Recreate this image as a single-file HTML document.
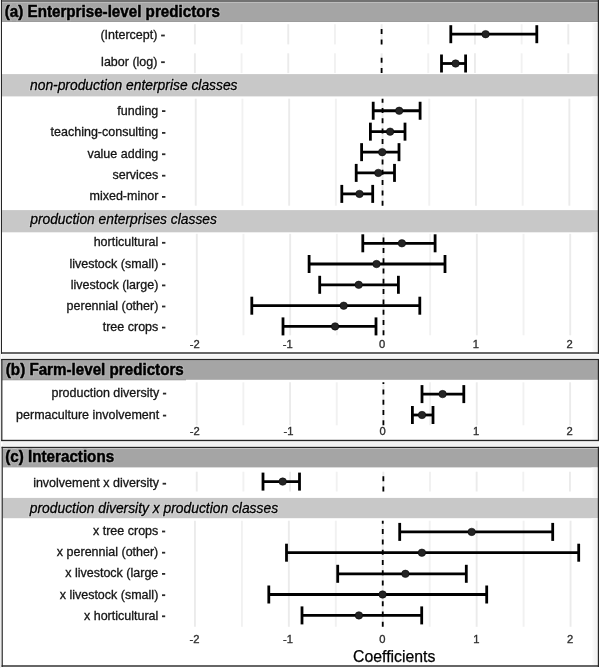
<!DOCTYPE html>
<html><head><meta charset="utf-8"><style>
html,body{margin:0;padding:0;background:#fff;}
body{width:600px;height:668px;overflow:hidden;}
svg{display:block;font-family:"Liberation Sans", sans-serif;filter:grayscale(1);}
</style></head><body>
<svg width="600" height="668" viewBox="0 0 600 668">
<defs><linearGradient id="rg" x1="0" x2="1" y1="0" y2="0"><stop offset="0" stop-color="#ffffff"/><stop offset="0.5" stop-color="#f5f5f5"/><stop offset="1" stop-color="#f2f2f2"/></linearGradient></defs>
<rect x="0" y="0" width="600" height="668" fill="#ffffff"/>
<rect x="0" y="0" width="1" height="668" fill="#ececec"/>
<rect x="1" y="0" width="597.5" height="2" fill="#727272"/>
<rect x="2" y="2" width="596" height="1" fill="#bdbdbd"/>
<rect x="2" y="3" width="596" height="19" fill="#a5a5a5"/>
<rect x="2" y="21" width="596" height="1" fill="#9c9c9c"/>
<text transform="translate(4.75 16.9) scale(1 1.08)" font-size="15.2" font-weight="bold" font-style="normal" text-anchor="start" fill="#b4b4b4" stroke="#b4b4b4" stroke-width="2.4">(a) Enterprise-level predictors</text>
<text transform="translate(4.75 16.9) scale(1 1.08)" font-size="15.2" font-weight="bold" font-style="normal" text-anchor="start" fill="#000" stroke="#000" stroke-width="0.45">(a) Enterprise-level predictors</text>
<line x1="241.58" y1="24.2" x2="241.58" y2="44.4" stroke="#f1f1f1" stroke-width="1.9" />
<line x1="334.93" y1="24.2" x2="334.93" y2="44.4" stroke="#f1f1f1" stroke-width="1.9" />
<line x1="428.28" y1="24.2" x2="428.28" y2="44.4" stroke="#f1f1f1" stroke-width="1.9" />
<line x1="521.62" y1="24.2" x2="521.62" y2="44.4" stroke="#f1f1f1" stroke-width="1.9" />
<line x1="194.9" y1="24.2" x2="194.9" y2="44.4" stroke="#ebebeb" stroke-width="1.9" />
<line x1="288.25" y1="24.2" x2="288.25" y2="44.4" stroke="#ebebeb" stroke-width="1.9" />
<line x1="381.6" y1="24.2" x2="381.6" y2="44.4" stroke="#ebebeb" stroke-width="1.9" />
<line x1="474.95" y1="24.2" x2="474.95" y2="44.4" stroke="#ebebeb" stroke-width="1.9" />
<line x1="568.3" y1="24.2" x2="568.3" y2="44.4" stroke="#ebebeb" stroke-width="1.9" />
<line x1="381.6" y1="44.4" x2="381.6" y2="24.2" stroke="#000" stroke-width="1.8" stroke-dasharray="5 5.3"/>
<line x1="450.8" y1="34.2" x2="536.8" y2="34.2" stroke="#000" stroke-width="2.8" />
<line x1="450.8" y1="25.200000000000003" x2="450.8" y2="43.2" stroke="#000" stroke-width="2.8" />
<line x1="536.8" y1="25.200000000000003" x2="536.8" y2="43.2" stroke="#000" stroke-width="2.8" />
<circle cx="485.6" cy="34.2" r="3.75" fill="#242424" stroke="#000" stroke-width="0.5"/>
<text x="157.4" y="38.9" font-size="12.5" font-weight="normal" font-style="normal" text-anchor="end" fill="#141414" stroke="#141414" stroke-width="0.3">(Intercept)</text>
<line x1="161.1" y1="35.5" x2="164.8" y2="35.5" stroke="#2a2a2a" stroke-width="1.8" />
<line x1="241.58" y1="53.3" x2="241.58" y2="73.1" stroke="#f1f1f1" stroke-width="1.9" />
<line x1="334.93" y1="53.3" x2="334.93" y2="73.1" stroke="#f1f1f1" stroke-width="1.9" />
<line x1="428.28" y1="53.3" x2="428.28" y2="73.1" stroke="#f1f1f1" stroke-width="1.9" />
<line x1="521.62" y1="53.3" x2="521.62" y2="73.1" stroke="#f1f1f1" stroke-width="1.9" />
<line x1="194.9" y1="53.3" x2="194.9" y2="73.1" stroke="#ebebeb" stroke-width="1.9" />
<line x1="288.25" y1="53.3" x2="288.25" y2="73.1" stroke="#ebebeb" stroke-width="1.9" />
<line x1="381.6" y1="53.3" x2="381.6" y2="73.1" stroke="#ebebeb" stroke-width="1.9" />
<line x1="474.95" y1="53.3" x2="474.95" y2="73.1" stroke="#ebebeb" stroke-width="1.9" />
<line x1="568.3" y1="53.3" x2="568.3" y2="73.1" stroke="#ebebeb" stroke-width="1.9" />
<line x1="381.6" y1="73.1" x2="381.6" y2="53.3" stroke="#000" stroke-width="1.8" stroke-dasharray="5 5.3"/>
<line x1="441.5" y1="63.5" x2="465.6" y2="63.5" stroke="#000" stroke-width="2.8" />
<line x1="441.5" y1="54.5" x2="441.5" y2="72.5" stroke="#000" stroke-width="2.8" />
<line x1="465.6" y1="54.5" x2="465.6" y2="72.5" stroke="#000" stroke-width="2.8" />
<circle cx="455.6" cy="63.5" r="3.75" fill="#242424" stroke="#000" stroke-width="0.5"/>
<text x="157.4" y="65.6" font-size="12.5" font-weight="normal" font-style="normal" text-anchor="end" fill="#141414" stroke="#141414" stroke-width="0.3">labor (log)</text>
<line x1="161.1" y1="62.2" x2="164.8" y2="62.2" stroke="#2a2a2a" stroke-width="1.8" />
<rect x="2" y="74.1" width="596" height="22.3" fill="#c8c8c8"/>
<text x="30" y="90.3" font-size="13.84" font-weight="normal" font-style="italic" text-anchor="start" fill="#d6d6d6" stroke="#d6d6d6" stroke-width="2.2">non-production enterprise classes</text>
<text x="30" y="90.3" font-size="13.84" font-weight="normal" font-style="italic" text-anchor="start" fill="#000" stroke="#000" stroke-width="0.3">non-production enterprise classes</text>
<line x1="242.45" y1="98.7" x2="242.45" y2="205.7" stroke="#f1f1f1" stroke-width="1.9" />
<line x1="335.85" y1="98.7" x2="335.85" y2="205.7" stroke="#f1f1f1" stroke-width="1.9" />
<line x1="429.25" y1="98.7" x2="429.25" y2="205.7" stroke="#f1f1f1" stroke-width="1.9" />
<line x1="522.65" y1="98.7" x2="522.65" y2="205.7" stroke="#f1f1f1" stroke-width="1.9" />
<line x1="195.75" y1="98.7" x2="195.75" y2="205.7" stroke="#ebebeb" stroke-width="1.9" />
<line x1="289.15" y1="98.7" x2="289.15" y2="205.7" stroke="#ebebeb" stroke-width="1.9" />
<line x1="382.55" y1="98.7" x2="382.55" y2="205.7" stroke="#ebebeb" stroke-width="1.9" />
<line x1="475.95" y1="98.7" x2="475.95" y2="205.7" stroke="#ebebeb" stroke-width="1.9" />
<line x1="569.35" y1="98.7" x2="569.35" y2="205.7" stroke="#ebebeb" stroke-width="1.9" />
<line x1="382.55" y1="205.7" x2="382.55" y2="98.7" stroke="#000" stroke-width="1.8" stroke-dasharray="5 5.3"/>
<line x1="373.2" y1="110.75" x2="420.1" y2="110.75" stroke="#000" stroke-width="2.8" />
<line x1="373.2" y1="101.75" x2="373.2" y2="119.75" stroke="#000" stroke-width="2.8" />
<line x1="420.1" y1="101.75" x2="420.1" y2="119.75" stroke="#000" stroke-width="2.8" />
<line x1="370.4" y1="131.65" x2="405" y2="131.65" stroke="#000" stroke-width="2.8" />
<line x1="370.4" y1="122.65" x2="370.4" y2="140.65" stroke="#000" stroke-width="2.8" />
<line x1="405" y1="122.65" x2="405" y2="140.65" stroke="#000" stroke-width="2.8" />
<line x1="361.6" y1="152.15" x2="399" y2="152.15" stroke="#000" stroke-width="2.8" />
<line x1="361.6" y1="143.15" x2="361.6" y2="161.15" stroke="#000" stroke-width="2.8" />
<line x1="399" y1="143.15" x2="399" y2="161.15" stroke="#000" stroke-width="2.8" />
<line x1="356.2" y1="172.9" x2="394.5" y2="172.9" stroke="#000" stroke-width="2.8" />
<line x1="356.2" y1="163.9" x2="356.2" y2="181.9" stroke="#000" stroke-width="2.8" />
<line x1="394.5" y1="163.9" x2="394.5" y2="181.9" stroke="#000" stroke-width="2.8" />
<line x1="341.8" y1="193.9" x2="372.7" y2="193.9" stroke="#000" stroke-width="2.8" />
<line x1="341.8" y1="184.9" x2="341.8" y2="202.9" stroke="#000" stroke-width="2.8" />
<line x1="372.7" y1="184.9" x2="372.7" y2="202.9" stroke="#000" stroke-width="2.8" />
<circle cx="399.2" cy="110.75" r="3.75" fill="#242424" stroke="#000" stroke-width="0.5"/>
<text x="158.3" y="114.5" font-size="12.5" font-weight="normal" font-style="normal" text-anchor="end" fill="#141414" stroke="#141414" stroke-width="0.3">funding</text>
<line x1="162" y1="111.1" x2="165.4" y2="111.1" stroke="#2a2a2a" stroke-width="1.8" />
<circle cx="390.1" cy="131.65" r="3.75" fill="#242424" stroke="#000" stroke-width="0.5"/>
<text x="158.3" y="136.3" font-size="12.5" font-weight="normal" font-style="normal" text-anchor="end" fill="#141414" stroke="#141414" stroke-width="0.3">teaching-consulting</text>
<line x1="162" y1="132.9" x2="165.4" y2="132.9" stroke="#2a2a2a" stroke-width="1.8" />
<circle cx="382.2" cy="152.15" r="3.75" fill="#242424" stroke="#000" stroke-width="0.5"/>
<text x="158.3" y="157.65" font-size="12.5" font-weight="normal" font-style="normal" text-anchor="end" fill="#141414" stroke="#141414" stroke-width="0.3">value adding</text>
<line x1="162" y1="154.25" x2="165.4" y2="154.25" stroke="#2a2a2a" stroke-width="1.8" />
<circle cx="378.3" cy="172.9" r="3.75" fill="#242424" stroke="#000" stroke-width="0.5"/>
<text x="158.3" y="179.1" font-size="12.5" font-weight="normal" font-style="normal" text-anchor="end" fill="#141414" stroke="#141414" stroke-width="0.3">services</text>
<line x1="162" y1="175.7" x2="165.4" y2="175.7" stroke="#2a2a2a" stroke-width="1.8" />
<circle cx="359.5" cy="193.9" r="3.75" fill="#242424" stroke="#000" stroke-width="0.5"/>
<text x="158.3" y="200.3" font-size="12.5" font-weight="normal" font-style="normal" text-anchor="end" fill="#141414" stroke="#141414" stroke-width="0.3">mixed-minor</text>
<line x1="162" y1="196.9" x2="165.4" y2="196.9" stroke="#2a2a2a" stroke-width="1.8" />
<rect x="2" y="210.1" width="596" height="22.2" fill="#c8c8c8"/>
<text x="30.2" y="224.2" font-size="13.84" font-weight="normal" font-style="italic" text-anchor="start" fill="#d6d6d6" stroke="#d6d6d6" stroke-width="2.2">production enterprises classes</text>
<text x="30.2" y="224.2" font-size="13.84" font-weight="normal" font-style="italic" text-anchor="start" fill="#000" stroke="#000" stroke-width="0.3">production enterprises classes</text>
<line x1="243.48" y1="233.8" x2="243.48" y2="335.3" stroke="#f1f1f1" stroke-width="1.9" />
<line x1="336.82" y1="233.8" x2="336.82" y2="335.3" stroke="#f1f1f1" stroke-width="1.9" />
<line x1="430.18" y1="233.8" x2="430.18" y2="335.3" stroke="#f1f1f1" stroke-width="1.9" />
<line x1="523.52" y1="233.8" x2="523.52" y2="335.3" stroke="#f1f1f1" stroke-width="1.9" />
<line x1="196.8" y1="233.8" x2="196.8" y2="335.3" stroke="#ebebeb" stroke-width="1.9" />
<line x1="290.15" y1="233.8" x2="290.15" y2="335.3" stroke="#ebebeb" stroke-width="1.9" />
<line x1="383.5" y1="233.8" x2="383.5" y2="335.3" stroke="#ebebeb" stroke-width="1.9" />
<line x1="476.85" y1="233.8" x2="476.85" y2="335.3" stroke="#ebebeb" stroke-width="1.9" />
<line x1="570.2" y1="233.8" x2="570.2" y2="335.3" stroke="#ebebeb" stroke-width="1.9" />
<line x1="383.5" y1="335.3" x2="383.5" y2="233.8" stroke="#000" stroke-width="1.8" stroke-dasharray="5 5.3"/>
<line x1="362.8" y1="243.3" x2="435.1" y2="243.3" stroke="#000" stroke-width="2.8" />
<line x1="362.8" y1="234.3" x2="362.8" y2="252.3" stroke="#000" stroke-width="2.8" />
<line x1="435.1" y1="234.3" x2="435.1" y2="252.3" stroke="#000" stroke-width="2.8" />
<line x1="309.1" y1="264.0" x2="445" y2="264.0" stroke="#000" stroke-width="2.8" />
<line x1="309.1" y1="255.0" x2="309.1" y2="273.0" stroke="#000" stroke-width="2.8" />
<line x1="445" y1="255.0" x2="445" y2="273.0" stroke="#000" stroke-width="2.8" />
<line x1="319.7" y1="284.8" x2="398.4" y2="284.8" stroke="#000" stroke-width="2.8" />
<line x1="319.7" y1="275.8" x2="319.7" y2="293.8" stroke="#000" stroke-width="2.8" />
<line x1="398.4" y1="275.8" x2="398.4" y2="293.8" stroke="#000" stroke-width="2.8" />
<line x1="251.8" y1="305.7" x2="419.8" y2="305.7" stroke="#000" stroke-width="2.8" />
<line x1="251.8" y1="296.7" x2="251.8" y2="314.7" stroke="#000" stroke-width="2.8" />
<line x1="419.8" y1="296.7" x2="419.8" y2="314.7" stroke="#000" stroke-width="2.8" />
<line x1="283" y1="326.4" x2="376" y2="326.4" stroke="#000" stroke-width="2.8" />
<line x1="283" y1="317.4" x2="283" y2="335.4" stroke="#000" stroke-width="2.8" />
<line x1="376" y1="317.4" x2="376" y2="335.4" stroke="#000" stroke-width="2.8" />
<circle cx="401.9" cy="243.3" r="3.75" fill="#242424" stroke="#000" stroke-width="0.5"/>
<text x="158.3" y="246.2" font-size="12.5" font-weight="normal" font-style="normal" text-anchor="end" fill="#141414" stroke="#141414" stroke-width="0.3">horticultural</text>
<line x1="162" y1="242.8" x2="165.4" y2="242.8" stroke="#2a2a2a" stroke-width="1.8" />
<circle cx="376.5" cy="264.0" r="3.75" fill="#242424" stroke="#000" stroke-width="0.5"/>
<text x="158.3" y="267.6" font-size="12.5" font-weight="normal" font-style="normal" text-anchor="end" fill="#141414" stroke="#141414" stroke-width="0.3">livestock (small)</text>
<line x1="162" y1="264.2" x2="165.4" y2="264.2" stroke="#2a2a2a" stroke-width="1.8" />
<circle cx="358.7" cy="284.8" r="3.75" fill="#242424" stroke="#000" stroke-width="0.5"/>
<text x="158.3" y="288.8" font-size="12.5" font-weight="normal" font-style="normal" text-anchor="end" fill="#141414" stroke="#141414" stroke-width="0.3">livestock (large)</text>
<line x1="162" y1="285.4" x2="165.4" y2="285.4" stroke="#2a2a2a" stroke-width="1.8" />
<circle cx="343.7" cy="305.7" r="3.75" fill="#242424" stroke="#000" stroke-width="0.5"/>
<text x="158.3" y="309.9" font-size="12.5" font-weight="normal" font-style="normal" text-anchor="end" fill="#141414" stroke="#141414" stroke-width="0.3">perennial (other)</text>
<line x1="162" y1="306.5" x2="165.4" y2="306.5" stroke="#2a2a2a" stroke-width="1.8" />
<circle cx="335.1" cy="326.4" r="3.75" fill="#242424" stroke="#000" stroke-width="0.5"/>
<text x="158.3" y="331.0" font-size="12.5" font-weight="normal" font-style="normal" text-anchor="end" fill="#141414" stroke="#141414" stroke-width="0.3">tree crops</text>
<line x1="162" y1="327.6" x2="165.4" y2="327.6" stroke="#2a2a2a" stroke-width="1.8" />
<text x="194.7" y="348" font-size="11.2" font-weight="normal" font-style="normal" text-anchor="middle" fill="#303030" stroke="#303030" stroke-width="0.35">-2</text>
<text x="287.8" y="348" font-size="11.2" font-weight="normal" font-style="normal" text-anchor="middle" fill="#303030" stroke="#303030" stroke-width="0.35">-1</text>
<text x="382" y="348" font-size="11.2" font-weight="normal" font-style="normal" text-anchor="middle" fill="#303030" stroke="#303030" stroke-width="0.35">0</text>
<text x="475.8" y="348" font-size="11.2" font-weight="normal" font-style="normal" text-anchor="middle" fill="#303030" stroke="#303030" stroke-width="0.35">1</text>
<text x="569.6" y="348" font-size="11.2" font-weight="normal" font-style="normal" text-anchor="middle" fill="#303030" stroke="#303030" stroke-width="0.35">2</text>
<rect x="591.5" y="23" width="6.3" height="50.9" fill="url(#rg)"/>
<rect x="591.5" y="96.6" width="6.3" height="113.3" fill="url(#rg)"/>
<rect x="591.5" y="232.5" width="6.3" height="119.8" fill="url(#rg)"/>
<rect x="1" y="0" width="1" height="353.7" fill="#262626"/>
<rect x="597.8" y="0" width="1.2" height="353.7" fill="#262626"/>
<rect x="1" y="352.3" width="598" height="1.4" fill="#262626"/>
<rect x="2" y="354.5" width="597" height="4" fill="#f3f3f3"/>
<rect x="2" y="360.5" width="596" height="19.3" fill="#a5a5a5"/>
<rect x="2" y="379" width="184" height="1.3" fill="#9e9e9e"/>
<text transform="translate(5.8 375) scale(1 1.08)" font-size="15.2" font-weight="bold" font-style="normal" text-anchor="start" fill="#b4b4b4" stroke="#b4b4b4" stroke-width="2.4">(b) Farm-level predictors</text>
<text transform="translate(5.8 375) scale(1 1.08)" font-size="15.2" font-weight="bold" font-style="normal" text-anchor="start" fill="#000" stroke="#000" stroke-width="0.45">(b) Farm-level predictors</text>
<line x1="243.38" y1="382.3" x2="243.38" y2="425.3" stroke="#f1f1f1" stroke-width="1.9" />
<line x1="336.72" y1="382.3" x2="336.72" y2="425.3" stroke="#f1f1f1" stroke-width="1.9" />
<line x1="430.07" y1="382.3" x2="430.07" y2="425.3" stroke="#f1f1f1" stroke-width="1.9" />
<line x1="523.42" y1="382.3" x2="523.42" y2="425.3" stroke="#f1f1f1" stroke-width="1.9" />
<line x1="196.7" y1="382.3" x2="196.7" y2="425.3" stroke="#ebebeb" stroke-width="1.9" />
<line x1="290.05" y1="382.3" x2="290.05" y2="425.3" stroke="#ebebeb" stroke-width="1.9" />
<line x1="383.4" y1="382.3" x2="383.4" y2="425.3" stroke="#ebebeb" stroke-width="1.9" />
<line x1="476.75" y1="382.3" x2="476.75" y2="425.3" stroke="#ebebeb" stroke-width="1.9" />
<line x1="570.1" y1="382.3" x2="570.1" y2="425.3" stroke="#ebebeb" stroke-width="1.9" />
<line x1="383.4" y1="425.3" x2="383.4" y2="382.3" stroke="#000" stroke-width="1.8" stroke-dasharray="5 5.3"/>
<line x1="422" y1="394.1" x2="463.8" y2="394.1" stroke="#000" stroke-width="2.8" />
<line x1="422" y1="385.1" x2="422" y2="403.1" stroke="#000" stroke-width="2.8" />
<line x1="463.8" y1="385.1" x2="463.8" y2="403.1" stroke="#000" stroke-width="2.8" />
<line x1="412.4" y1="415.0" x2="433" y2="415.0" stroke="#000" stroke-width="2.8" />
<line x1="412.4" y1="406.0" x2="412.4" y2="424.0" stroke="#000" stroke-width="2.8" />
<line x1="433" y1="406.0" x2="433" y2="424.0" stroke="#000" stroke-width="2.8" />
<circle cx="442.6" cy="394.1" r="3.75" fill="#242424" stroke="#000" stroke-width="0.5"/>
<text x="159.2" y="397.0" font-size="12.5" font-weight="normal" font-style="normal" text-anchor="end" fill="#141414" stroke="#141414" stroke-width="0.3">production diversity</text>
<line x1="162.9" y1="393.6" x2="166.2" y2="393.6" stroke="#2a2a2a" stroke-width="1.8" />
<circle cx="422" cy="415.0" r="3.75" fill="#242424" stroke="#000" stroke-width="0.5"/>
<text x="159.2" y="419.0" font-size="12.5" font-weight="normal" font-style="normal" text-anchor="end" fill="#141414" stroke="#141414" stroke-width="0.3">permaculture involvement</text>
<line x1="162.9" y1="415.6" x2="166.2" y2="415.6" stroke="#2a2a2a" stroke-width="1.8" />
<text x="194.7" y="434.6" font-size="11.2" font-weight="normal" font-style="normal" text-anchor="middle" fill="#303030" stroke="#303030" stroke-width="0.35">-2</text>
<text x="288.6" y="434.6" font-size="11.2" font-weight="normal" font-style="normal" text-anchor="middle" fill="#303030" stroke="#303030" stroke-width="0.35">-1</text>
<text x="382.6" y="434.6" font-size="11.2" font-weight="normal" font-style="normal" text-anchor="middle" fill="#303030" stroke="#303030" stroke-width="0.35">0</text>
<text x="476.2" y="434.6" font-size="11.2" font-weight="normal" font-style="normal" text-anchor="middle" fill="#303030" stroke="#303030" stroke-width="0.35">1</text>
<text x="569.6" y="434.6" font-size="11.2" font-weight="normal" font-style="normal" text-anchor="middle" fill="#303030" stroke="#303030" stroke-width="0.35">2</text>
<rect x="591.5" y="380.2" width="6.3" height="59.6" fill="url(#rg)"/>
<rect x="1.2" y="359" width="1.2" height="82" fill="#262626"/>
<rect x="597.8" y="359" width="1.2" height="82" fill="#262626"/>
<rect x="1.2" y="358.9" width="597.8" height="1.4" fill="#262626"/>
<rect x="1.2" y="439.8" width="597.8" height="1.4" fill="#262626"/>
<rect x="2.5" y="441.8" width="596" height="4.5" fill="#f3f3f3"/>
<rect x="2.5" y="448.8" width="595.5" height="18.6" fill="#a5a5a5"/>
<text transform="translate(5.3 461.8) scale(1 1.08)" font-size="15.2" font-weight="bold" font-style="normal" text-anchor="start" fill="#b4b4b4" stroke="#b4b4b4" stroke-width="2.4">(c) Interactions</text>
<text transform="translate(5.3 461.8) scale(1 1.08)" font-size="15.2" font-weight="bold" font-style="normal" text-anchor="start" fill="#000" stroke="#000" stroke-width="0.45">(c) Interactions</text>
<line x1="243.4" y1="471.7" x2="243.4" y2="491.5" stroke="#f1f1f1" stroke-width="1.9" />
<line x1="336.7" y1="471.7" x2="336.7" y2="491.5" stroke="#f1f1f1" stroke-width="1.9" />
<line x1="430.0" y1="471.7" x2="430.0" y2="491.5" stroke="#f1f1f1" stroke-width="1.9" />
<line x1="523.3" y1="471.7" x2="523.3" y2="491.5" stroke="#f1f1f1" stroke-width="1.9" />
<line x1="196.75" y1="471.7" x2="196.75" y2="491.5" stroke="#ebebeb" stroke-width="1.9" />
<line x1="290.05" y1="471.7" x2="290.05" y2="491.5" stroke="#ebebeb" stroke-width="1.9" />
<line x1="383.35" y1="471.7" x2="383.35" y2="491.5" stroke="#ebebeb" stroke-width="1.9" />
<line x1="476.65" y1="471.7" x2="476.65" y2="491.5" stroke="#ebebeb" stroke-width="1.9" />
<line x1="569.95" y1="471.7" x2="569.95" y2="491.5" stroke="#ebebeb" stroke-width="1.9" />
<line x1="383.35" y1="491.5" x2="383.35" y2="471.7" stroke="#000" stroke-width="1.8" stroke-dasharray="5 5.3"/>
<line x1="263" y1="481.6" x2="299.5" y2="481.6" stroke="#000" stroke-width="2.8" />
<line x1="263" y1="472.6" x2="263" y2="490.6" stroke="#000" stroke-width="2.8" />
<line x1="299.5" y1="472.6" x2="299.5" y2="490.6" stroke="#000" stroke-width="2.8" />
<circle cx="282.7" cy="481.6" r="3.75" fill="#242424" stroke="#000" stroke-width="0.5"/>
<text x="158.9" y="487.1" font-size="12.5" font-weight="normal" font-style="normal" text-anchor="end" fill="#141414" stroke="#141414" stroke-width="0.3">involvement x diversity</text>
<line x1="162.6" y1="483.7" x2="166.1" y2="483.7" stroke="#2a2a2a" stroke-width="1.8" />
<rect x="2.5" y="497.9" width="595.5" height="20.3" fill="#c8c8c8"/>
<text x="29.8" y="512.5" font-size="13.84" font-weight="normal" font-style="italic" text-anchor="start" fill="#d6d6d6" stroke="#d6d6d6" stroke-width="2.2">production diversity x production classes</text>
<text x="29.8" y="512.5" font-size="13.84" font-weight="normal" font-style="italic" text-anchor="start" fill="#000" stroke="#000" stroke-width="0.3">production diversity x production classes</text>
<line x1="241.9" y1="520.7" x2="241.9" y2="626.8" stroke="#f1f1f1" stroke-width="1.9" />
<line x1="335.8" y1="520.7" x2="335.8" y2="626.8" stroke="#f1f1f1" stroke-width="1.9" />
<line x1="429.7" y1="520.7" x2="429.7" y2="626.8" stroke="#f1f1f1" stroke-width="1.9" />
<line x1="523.6" y1="520.7" x2="523.6" y2="626.8" stroke="#f1f1f1" stroke-width="1.9" />
<line x1="194.95" y1="520.7" x2="194.95" y2="626.8" stroke="#ebebeb" stroke-width="1.9" />
<line x1="288.85" y1="520.7" x2="288.85" y2="626.8" stroke="#ebebeb" stroke-width="1.9" />
<line x1="382.75" y1="520.7" x2="382.75" y2="626.8" stroke="#ebebeb" stroke-width="1.9" />
<line x1="476.65" y1="520.7" x2="476.65" y2="626.8" stroke="#ebebeb" stroke-width="1.9" />
<line x1="570.55" y1="520.7" x2="570.55" y2="626.8" stroke="#ebebeb" stroke-width="1.9" />
<line x1="382.75" y1="626.8" x2="382.75" y2="520.7" stroke="#000" stroke-width="1.8" stroke-dasharray="5 5.3"/>
<line x1="399.7" y1="531.9" x2="552.7" y2="531.9" stroke="#000" stroke-width="2.8" />
<line x1="399.7" y1="522.9" x2="399.7" y2="540.9" stroke="#000" stroke-width="2.8" />
<line x1="552.7" y1="522.9" x2="552.7" y2="540.9" stroke="#000" stroke-width="2.8" />
<line x1="286.5" y1="552.7" x2="578.7" y2="552.7" stroke="#000" stroke-width="2.8" />
<line x1="286.5" y1="543.7" x2="286.5" y2="561.7" stroke="#000" stroke-width="2.8" />
<line x1="578.7" y1="543.7" x2="578.7" y2="561.7" stroke="#000" stroke-width="2.8" />
<line x1="337.7" y1="573.8" x2="466.3" y2="573.8" stroke="#000" stroke-width="2.8" />
<line x1="337.7" y1="564.8" x2="337.7" y2="582.8" stroke="#000" stroke-width="2.8" />
<line x1="466.3" y1="564.8" x2="466.3" y2="582.8" stroke="#000" stroke-width="2.8" />
<line x1="268.8" y1="594.5" x2="486.7" y2="594.5" stroke="#000" stroke-width="2.8" />
<line x1="268.8" y1="585.5" x2="268.8" y2="603.5" stroke="#000" stroke-width="2.8" />
<line x1="486.7" y1="585.5" x2="486.7" y2="603.5" stroke="#000" stroke-width="2.8" />
<line x1="302" y1="615.4" x2="421.7" y2="615.4" stroke="#000" stroke-width="2.8" />
<line x1="302" y1="606.4" x2="302" y2="624.4" stroke="#000" stroke-width="2.8" />
<line x1="421.7" y1="606.4" x2="421.7" y2="624.4" stroke="#000" stroke-width="2.8" />
<circle cx="471.7" cy="531.9" r="3.75" fill="#242424" stroke="#000" stroke-width="0.5"/>
<text x="158.3" y="534.9" font-size="12.5" font-weight="normal" font-style="normal" text-anchor="end" fill="#141414" stroke="#141414" stroke-width="0.3">x tree crops</text>
<line x1="162" y1="531.5" x2="165.2" y2="531.5" stroke="#2a2a2a" stroke-width="1.8" />
<circle cx="421.9" cy="552.7" r="3.75" fill="#242424" stroke="#000" stroke-width="0.5"/>
<text x="158.3" y="556.1" font-size="12.5" font-weight="normal" font-style="normal" text-anchor="end" fill="#141414" stroke="#141414" stroke-width="0.3">x perennial (other)</text>
<line x1="162" y1="552.7" x2="165.2" y2="552.7" stroke="#2a2a2a" stroke-width="1.8" />
<circle cx="405.4" cy="573.8" r="3.75" fill="#242424" stroke="#000" stroke-width="0.5"/>
<text x="158.3" y="577.3" font-size="12.5" font-weight="normal" font-style="normal" text-anchor="end" fill="#141414" stroke="#141414" stroke-width="0.3">x livestock (large</text>
<line x1="162" y1="573.9" x2="165.2" y2="573.9" stroke="#2a2a2a" stroke-width="1.8" />
<circle cx="382.6" cy="594.5" r="3.75" fill="#242424" stroke="#000" stroke-width="0.5"/>
<text x="158.3" y="598.6" font-size="12.5" font-weight="normal" font-style="normal" text-anchor="end" fill="#141414" stroke="#141414" stroke-width="0.3">x livestock (small)</text>
<line x1="162" y1="595.2" x2="165.2" y2="595.2" stroke="#2a2a2a" stroke-width="1.8" />
<circle cx="358.9" cy="615.4" r="3.75" fill="#242424" stroke="#000" stroke-width="0.5"/>
<text x="158.3" y="619.7" font-size="12.5" font-weight="normal" font-style="normal" text-anchor="end" fill="#141414" stroke="#141414" stroke-width="0.3">x horticultural</text>
<line x1="162" y1="616.3" x2="165.2" y2="616.3" stroke="#2a2a2a" stroke-width="1.8" />
<text x="194.5" y="643.3" font-size="11.2" font-weight="normal" font-style="normal" text-anchor="middle" fill="#303030" stroke="#303030" stroke-width="0.35">-2</text>
<text x="288" y="643.3" font-size="11.2" font-weight="normal" font-style="normal" text-anchor="middle" fill="#303030" stroke="#303030" stroke-width="0.35">-1</text>
<text x="382.4" y="643.3" font-size="11.2" font-weight="normal" font-style="normal" text-anchor="middle" fill="#303030" stroke="#303030" stroke-width="0.35">0</text>
<text x="476.3" y="643.3" font-size="11.2" font-weight="normal" font-style="normal" text-anchor="middle" fill="#303030" stroke="#303030" stroke-width="0.35">1</text>
<text x="570" y="643.3" font-size="11.2" font-weight="normal" font-style="normal" text-anchor="middle" fill="#303030" stroke="#303030" stroke-width="0.35">2</text>
<text x="394.2" y="661.8" font-size="15.8" font-weight="normal" font-style="normal" text-anchor="middle" fill="#000" stroke="#000" stroke-width="0.25">Coefficients</text>
<rect x="591.5" y="467.6" width="6.3" height="30.3" fill="url(#rg)"/>
<rect x="591.5" y="518.2" width="6.3" height="147.1" fill="url(#rg)"/>
<rect x="1.6" y="446.8" width="1.2" height="220.2" fill="#262626"/>
<rect x="597.8" y="446.8" width="1.2" height="220.2" fill="#262626"/>
<rect x="1.6" y="446.8" width="597.4" height="1.4" fill="#262626"/>
<rect x="1.6" y="665.3" width="597.4" height="1.4" fill="#262626"/>
</svg>
</body></html>
